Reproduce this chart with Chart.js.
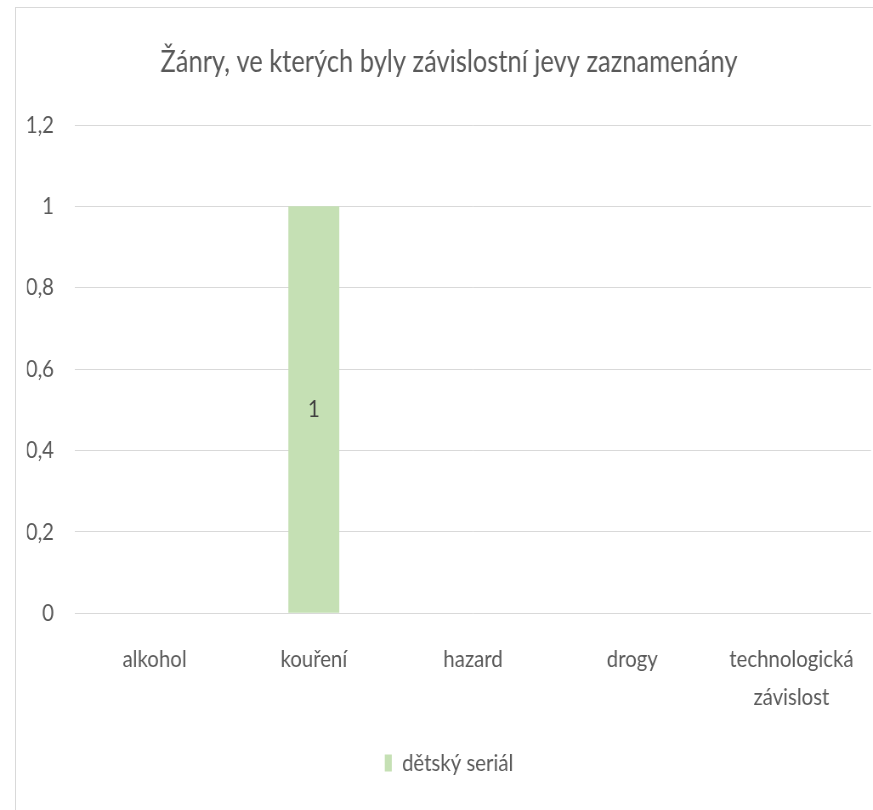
<!DOCTYPE html>
<html>
<head>
<meta charset="utf-8">
<script src="https://cdn.jsdelivr.net/npm/chart.js@4/dist/chart.umd.min.js"></script>
<style>
  html, body { margin: 0; padding: 0; background: #ffffff; overflow: hidden; width: 873px; height: 810px; }
  #frame { position: absolute; left: 15px; top: 7px; width: 900px; height: 850px; border: 1px solid #d9d9d9; box-sizing: border-box; }
  #wrap { position: absolute; left: 0; top: 0; height: 810px; transform-origin: 0 0; }
</style>
</head>
<body>
<div id="frame"></div>
<div id="wrap"><canvas id="c"></canvas></div>
<script>
const titleText = "Žánry, ve kterých byly závislostní jevy zaznamenány";
const categories = ["alkohol", "kouření", "hazard", "drogy", ["technologická", "závislost"]];
const seriesName = "dětský seriál";
const seriesValues = [0, 1, 0, 0, 0];
const yTicks = [0, 0.2, 0.4, 0.6, 0.8, 1, 1.2];

const S = 0.85;                       // horizontal squeeze imitating the condensed lettering
const CW = Math.round(905 / S);       // canvas width in drawing units (extends past the window, like the clipped frame)
const canvas = document.getElementById('c');
canvas.width = CW; canvas.height = 810;
const wrap = document.getElementById('wrap');
wrap.style.width = CW + 'px';
wrap.style.transform = 'scaleX(' + S + ')';
const PAGE_W = CW * S;
const PAD_L = 27;

const FONT = "Lato, 'Liberation Sans', sans-serif";
const GREY = "#595959";

const fmt = v => String(Number(v.toFixed(1))).replace('.', ',');

const valueLabels = {
  id: 'valueLabels',
  afterDatasetsDraw(chart) {
    const ctx = chart.ctx;
    chart.data.datasets.forEach((ds, di) => {
      const meta = chart.getDatasetMeta(di);
      meta.data.forEach((bar, i) => {
        const v = ds.data[i];
        if (!v) return;
        const p = bar.getProps(['x', 'y', 'base'], true);
        ctx.save();
        ctx.font = "24px " + FONT;
        ctx.fillStyle = "#404040";
        ctx.textAlign = 'center';
        ctx.textBaseline = 'middle';
        ctx.fillText(fmt(v), p.x, (p.y + p.base) / 2);
        ctx.restore();
      });
    });
  }
};

new Chart(canvas, {
  type: 'bar',
  data: {
    labels: categories,
    datasets: [{
      label: seriesName,
      data: seriesValues,
      backgroundColor: '#c5e0b4',
      borderWidth: 0,
      categoryPercentage: 1,
      barPercentage: 0.32
    }]
  },
  options: {
    responsive: false,
    animation: false,
    devicePixelRatio: 1,
    layout: { padding: { left: PAD_L / S, right: (PAGE_W - 871) / S, top: 0, bottom: 25 } },
    plugins: {
      title: {
        display: true,
        text: titleText,
        color: GREY,
        font: { family: FONT, size: 30, weight: 'normal', lineHeight: 1.2 },
        padding: { top: 44, bottom: 45 }
      },
      legend: {
        position: 'bottom',
        labels: {
          color: GREY,
          font: { family: FONT, size: 24, weight: 'normal' },
          boxWidth: 7 / S,
          boxHeight: 17,
          padding: 35
        }
      },
      tooltip: { enabled: false }
    },
    scales: {
      x: {
        grid: { display: true, drawOnChartArea: false, drawTicks: true, tickLength: 27, color: 'rgba(0,0,0,0)' },
        border: { display: false },
        ticks: {
          color: GREY,
          font: { family: FONT, size: 24, weight: 'normal', lineHeight: 1.58 },
          padding: 0,
          maxRotation: 0,
          autoSkip: false
        }
      },
      y: {
        min: 0,
        max: 1.2,
        afterFit(scale) { scale.width = (75 - PAD_L) / S; },
        afterBuildTicks(scale) { scale.ticks = yTicks.map(v => ({ value: v })); },
        grid: { color: '#d9d9d9', drawTicks: false, lineWidth: 1 },
        border: { display: false },
        ticks: {
          color: GREY,
          font: { family: FONT, size: 24, weight: 'normal' },
          padding: 21 / S,
          callback: v => fmt(v)
        }
      }
    }
  },
  plugins: [valueLabels]
});
</script>
</body>
</html>
